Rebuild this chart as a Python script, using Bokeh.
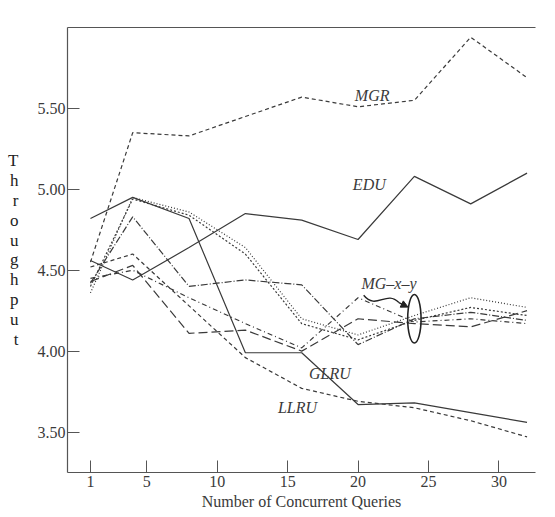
from bokeh.plotting import figure
from bokeh.models import (FixedTicker, NumeralTickFormatter, LinearAxis, Label,
                          Range1d, Arrow, NormalHead)
from bokeh.embed import file_html
from bokeh.resources import INLINE

# Number of concurrent queries
queries = [1, 4, 8, 12, 16, 20, 24, 28, 32]

# Throughput per buffer policy
mgr = [4.55, 5.35, 5.33, 5.45, 5.57, 5.51, 5.55, 5.94, 5.69]
edu = [4.56, 4.44, 4.64, 4.85, 4.81, 4.69, 5.08, 4.91, 5.10]
glru = [4.82, 4.95, 4.82, 3.99, 3.99, 3.67, 3.68, 3.62, 3.56]
llru = [4.52, 4.60, 4.28, 3.96, 3.77, 3.69, 3.65, 3.57, 3.47]
mg_a = [4.36, 4.95, 4.86, 4.64, 4.20, 4.10, 4.22, 4.33, 4.27]
mg_b = [4.40, 4.94, 4.84, 4.60, 4.17, 4.07, 4.19, 4.27, 4.22]
mg_c = [4.42, 4.83, 4.40, 4.44, 4.41, 4.04, 4.20, 4.24, 4.19]
mg_d = [4.43, 4.53, 4.11, 4.13, 4.00, 4.20, 4.17, 4.15, 4.25]
mg_e = [4.45, 4.50, 4.33, 4.17, 4.02, 4.33, 4.18, 4.20, 4.17]

y_ticks = [3.5, 4.0, 4.5, 5.0, 5.5]
x_ticks = [1, 5, 10, 15, 20, 25, 30]

SERIF = "Liberation Serif"
INK = "#3a3a3a"

p = figure(width=555, height=512, output_backend="svg", toolbar_location=None,
           x_range=Range1d(-0.63, 32.6), y_range=Range1d(3.25, 6.0),
           min_border_left=67, min_border_right=20, min_border_top=27,
           min_border_bottom=40)
p.grid.visible = False
p.outline_line_color = None
p.background_fill_color = "white"
p.border_fill_color = "white"

# axes
for ax in (p.xaxis[0], p.yaxis[0]):
    ax.axis_line_color = "#555555"
    ax.axis_line_width = 1.2
    ax.major_tick_in = 12
    ax.major_tick_out = 0
    ax.major_tick_line_color = "#555555"
    ax.minor_tick_line_color = None
    ax.major_label_text_font = SERIF
    ax.major_label_text_font_size = "16px"
    ax.major_label_text_color = INK

p.yaxis.ticker = FixedTicker(ticks=y_ticks)
p.yaxis.formatter = NumeralTickFormatter(format="0.00")
p.yaxis.major_label_standoff = 2
# stacked vertical axis title
p.yaxis.axis_label = "\n".join("Throughput")
p.yaxis.axis_label_orientation = "horizontal"
p.yaxis.axis_label_text_font = SERIF
p.yaxis.axis_label_text_font_style = "normal"
p.yaxis.axis_label_text_font_size = "17px"
p.yaxis.axis_label_text_color = "#222222"
p.yaxis.axis_label_standoff = 16
p.yaxis.axis_label_text_line_height = 1.05

p.xaxis.ticker = FixedTicker(ticks=x_ticks)
p.xaxis.major_label_standoff = 3
p.xaxis.axis_label = "Number of Concurrent Queries"
p.xaxis.axis_label_text_font = SERIF
p.xaxis.axis_label_text_font_style = "normal"
p.xaxis.axis_label_text_font_size = "16px"
p.xaxis.axis_label_text_color = INK
p.xaxis.axis_label_standoff = 3

# plain rule along the top of the plot area
top = LinearAxis(ticker=FixedTicker(ticks=[]), axis_line_color="#555555",
                 axis_line_width=1.2, major_label_text_font_size="0px")
p.add_layout(top, "above")

# series
styles = [
    (mgr, "4 3"), (edu, "solid"), (glru, "solid"), (llru, "4 3"),
    (mg_a, "1 2"), (mg_b, "2 2"), (mg_c, "7 2 1 2"), (mg_d, "9 4"),
    (mg_e, "5 3 1 3"),
]
for ys, dash in styles:
    p.line(queries, ys, line_color=INK, line_width=1.2, line_dash=dash)

# in-plot series labels
labels = [("MGR", 21.0, 5.58), ("EDU", 20.8, 5.03), ("MG\u2013x\u2013y", 22.2, 4.42),
          ("GLRU", 18.0, 3.86), ("LLRU", 15.7, 3.65)]
for txt, lx, ly in labels:
    p.add_layout(Label(x=lx, y=ly, text=txt, text_font=SERIF,
                       text_font_style="italic", text_font_size="16px",
                       text_color=INK, text_align="center",
                       text_baseline="middle"))

# ellipse grouping the MG-x-y curves and its pointer
p.ellipse(x=[24.0], y=[4.2], width=0.95, height=0.30, fill_color=None,
          line_color="#222222", line_width=1.6)
p.bezier(x0=[20.4], y0=[4.345], x1=[22.9], y1=[4.30],
         cx0=[21.3], cy0=[4.25], cx1=[22.0], cy1=[4.38],
         line_color="#222222", line_width=1.4)
p.add_layout(Arrow(x_start=22.9, y_start=4.30, x_end=23.55, y_end=4.272,
                   line_color="#222222", line_width=1.4,
                   end=NormalHead(size=7, fill_color="#222222",
                                  line_color="#222222")))

open("out.html", "w").write(file_html(p, INLINE))
